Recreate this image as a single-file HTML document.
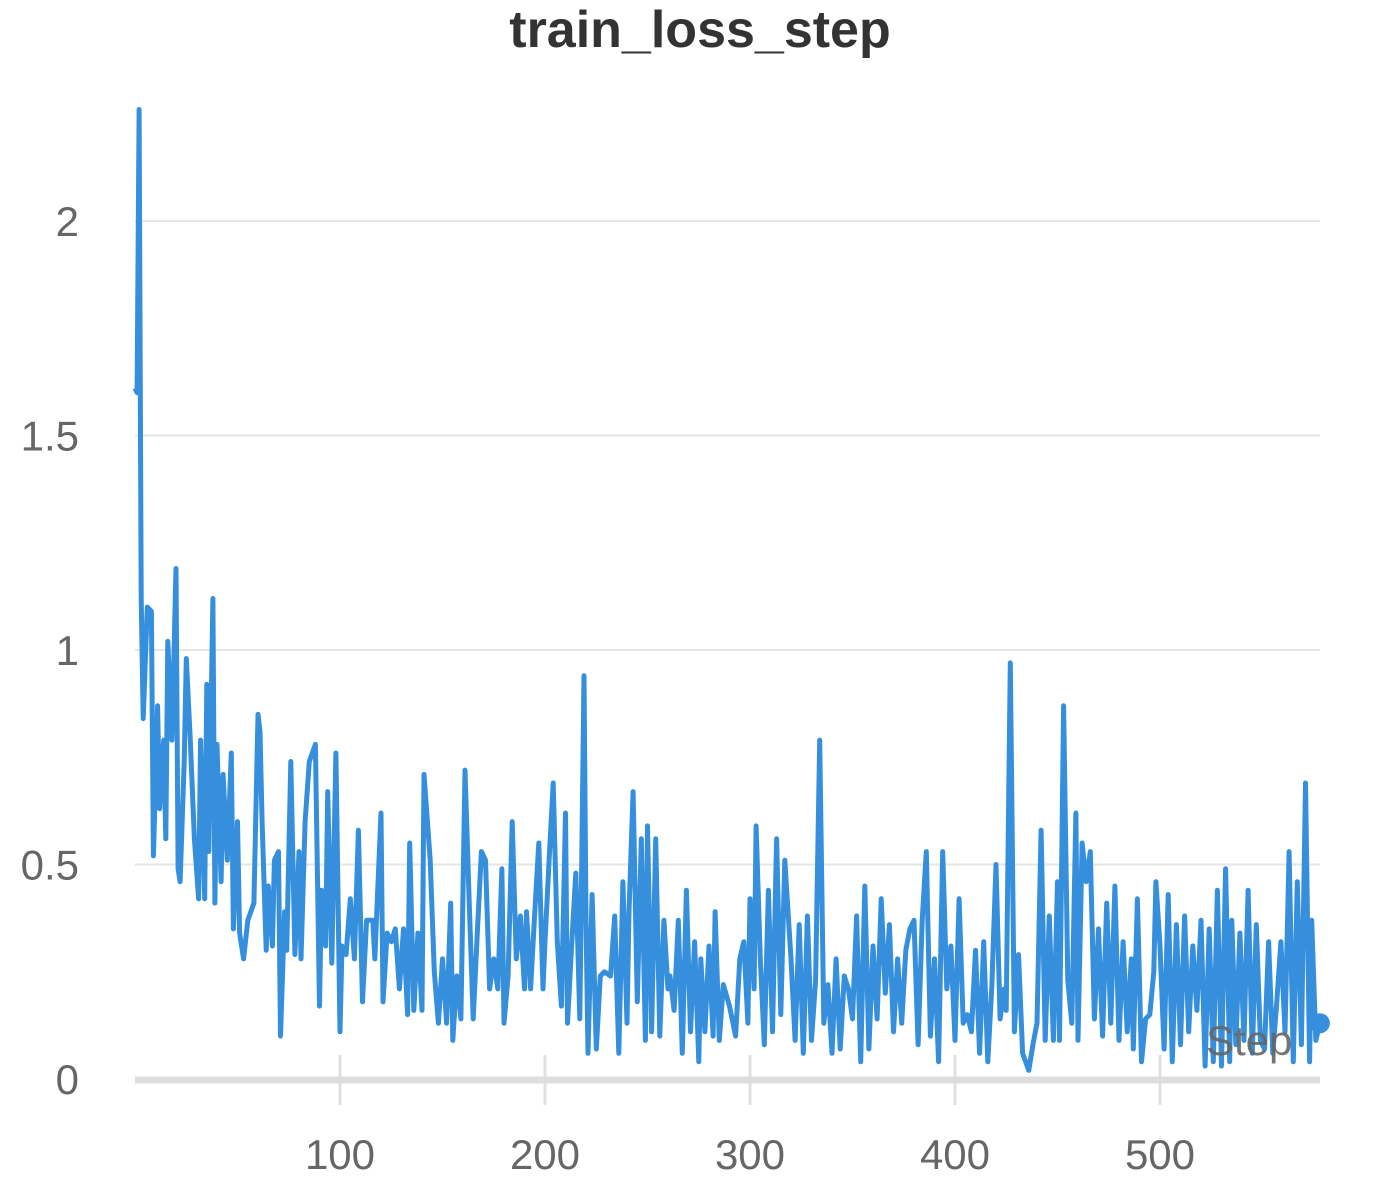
<!DOCTYPE html>
<html><head><meta charset="utf-8">
<style>
html,body{margin:0;padding:0;background:#fff;}
svg{display:block;font-family:"Liberation Sans",sans-serif;}
</style></head>
<body>
<svg id="chart" width="1400" height="1200">
<text x="700" y="47" text-anchor="middle" font-size="52" font-weight="bold" fill="#333">train_loss_step</text>
<g id="grid"></g><g id="axes"></g><g id="series"></g>
<text x="1206" y="1055" font-size="42" fill="#666" opacity="0.9">Step</text>
</svg>
<script>
const steps=[0,1,2,3,4,6,8,9,11,12,14,15,16,18,20,21,22,24,25,27,29,31,32,34,35,36,38,39,40,42,43,45,47,48,50,51,53,55,58,60,61,62,64,65,67,68,70,71,
73,74,76,78,80,81,83,85,88,90,91,93,94,96,98,100,101,103,105,107,109,111,113,116,117,120,121,123,125,127,129,131,133,134,136,138,140,141,144,146,148,150,152,154,155,157,159,161,163,165,167,169,171,173,175,177,179,180,182,184,186,188,190,191,193,195,197,199,200,202,204,206,208,210,211,213,215,217,219,220,221,223,225,227,229,232,234,236,238,240,241,243,245,247,249,250,252,254,256,258,260,261,263,265,267,269,271,273,275,276,278,280,282,283,285,287,290,293,295,297,299,300,302,303,305,307,309,311,313,315,317,320,322,324,326,328,330,332,334,336,338,340,342,344,346,348,350,352,354,356,358,360,362,364,366,368,370,372,374,376,378,380,382,384,386,388,390,392,394,396,398,400,402,404,406,408,410,412,414,416,418,420,422,424,425,427,429,431,433,436,438,440,442,444,446,448,450,451,453,455,457,459,460,462,464,466,468,470,472,474,476,478,480,482,484,486,487,489,491,493,495,497,498,500,502,504,506,508,510,512,514,516,518,520,522,524,526,528,530,532,534,535,537,539,541,543,545,547,549,551,553,555,557,559,561,563,565,567,569,571,573,574,576,578];
const losses=[1.61,1.60,2.26,1.12,0.84,1.10,1.09,0.52,0.87,0.63,0.79,0.56,1.02,0.79,1.19,0.49,0.46,0.74,0.98,0.79,0.56,0.42,0.79,0.42,0.92,0.53,1.12,0.41,0.78,0.46,0.71,0.51,0.76,0.35,0.60,0.34,0.28,0.37,0.41,0.85,0.81,0.60,0.30,0.45,0.31,0.51,0.53,0.10,
0.39,0.30,0.74,0.29,0.53,0.28,0.60,0.74,0.78,0.17,0.44,0.31,0.67,0.27,0.76,0.11,0.31,0.29,0.42,0.28,0.58,0.18,0.37,0.37,0.28,0.62,0.18,0.34,0.32,0.35,0.21,0.35,0.15,0.55,0.16,0.34,0.16,0.71,0.51,0.25,0.13,0.28,0.13,0.41,0.09,0.24,0.14,0.72,0.42,0.14,0.34,0.53,0.51,0.21,0.28,0.21,0.49,0.13,0.24,0.60,0.28,0.38,0.21,0.39,0.21,0.39,0.55,0.21,0.32,0.51,0.69,0.32,0.17,0.62,0.13,0.31,0.48,0.14,0.94,0.37,0.06,0.43,0.07,0.24,0.25,0.24,0.38,0.06,0.46,0.13,0.39,0.67,0.18,0.56,0.09,0.59,0.11,0.56,0.10,0.37,0.21,0.24,0.16,0.37,0.06,0.44,0.11,0.32,0.04,0.28,0.11,0.31,0.10,0.39,0.09,0.22,0.17,0.10,0.28,0.32,0.13,0.42,0.21,0.59,0.28,0.08,0.44,0.11,0.56,0.15,0.51,0.28,0.09,0.36,0.06,0.38,0.09,0.23,0.79,0.13,0.22,0.06,0.28,0.07,0.24,0.21,0.14,0.38,0.04,0.45,0.07,0.31,0.14,0.42,0.20,0.36,0.11,0.28,0.13,0.30,0.35,0.37,0.08,0.37,0.53,0.10,0.28,0.04,0.53,0.21,0.31,0.09,0.42,0.13,0.15,0.11,0.30,0.06,0.32,0.04,0.22,0.50,0.14,0.21,0.16,0.97,0.11,0.29,0.06,0.02,0.08,0.13,0.58,0.09,0.38,0.09,0.46,0.09,0.87,0.23,0.13,0.62,0.09,0.55,0.46,0.53,0.14,0.35,0.10,0.41,0.13,0.45,0.09,0.32,0.11,0.28,0.07,0.42,0.04,0.14,0.15,0.25,0.46,0.31,0.07,0.43,0.04,0.36,0.08,0.38,0.11,0.31,0.16,0.37,0.03,0.35,0.04,0.44,0.03,0.49,0.04,0.37,0.08,0.34,0.09,0.44,0.06,0.36,0.09,0.07,0.32,0.06,0.18,0.32,0.11,0.53,0.04,0.46,0.08,0.69,0.04,0.37,0.09,0.13];
const yTicks=[0,0.5,1,1.5,2];
const yTickLabels=["0","0.5","1","1.5","2"];
const xTicks=[100,200,300,400,500];
const xTickLabels=["100","200","300","400","500"];

const NS="http://www.w3.org/2000/svg";
const X0=135,XPX=2.05,Y0=1079,YPX=429;
const xs=s=>X0+s*XPX, ys=v=>Y0-v*YPX;
function mk(tag,attrs,parent){const e=document.createElementNS(NS,tag);for(const k in attrs)e.setAttribute(k,attrs[k]);parent.appendChild(e);return e;}
const grid=document.getElementById('grid'),axes=document.getElementById('axes'),series=document.getElementById('series');
yTicks.forEach((t,i)=>{
  if(t>0){const l=mk('line',{x1:135,x2:1320,y1:ys(t),y2:ys(t),stroke:'#e6e6e6','stroke-width':2},grid);
  
  }
  const tx=mk('text',{x:79,y:ys(t)+15,'text-anchor':'end','font-size':42,fill:'#666'},axes);
  tx.textContent=yTickLabels[i];
  
  
});
xTicks.forEach((t,i)=>{
  const l=mk('line',{x1:xs(t),x2:xs(t),y1:1055,y2:1105,stroke:'#e0e0e0','stroke-width':3},axes);
  
  
  const tx=mk('text',{x:xs(t),y:1169,'text-anchor':'middle','font-size':42,fill:'#666'},axes);
  tx.textContent=xTickLabels[i];
  
  
});
const base=mk('line',{x1:135,x2:1320,y1:1080,y2:1080,stroke:'#dddddd','stroke-width':7},axes);


const d=steps.map((s,i)=>(i?'L':'M')+xs(s).toFixed(1)+' '+ys(losses[i]).toFixed(1)).join(' ');
const path=mk('path',{d:d,fill:'none',stroke:'#368fdc','stroke-width':5,'stroke-linejoin':'round'},series);


const n=steps.length-1;
const dot=mk('circle',{cx:xs(steps[n]),cy:ys(losses[n]),r:10,fill:'#368fdc'},series);


</script>
</body></html>
